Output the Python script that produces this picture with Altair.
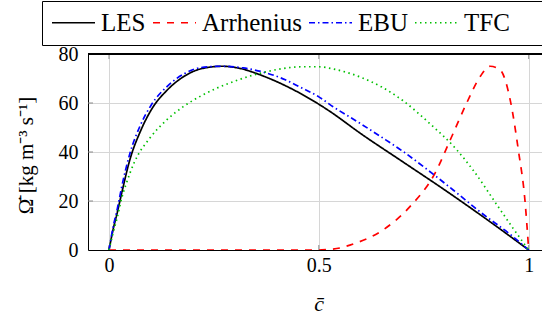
import altair as alt
import pandas as pd

# ---- data ----
series_names = ["LES", "Arrhenius", "EBU", "TFC"]

les_c = [0, 0.01, 0.02, 0.03, 0.05, 0.075, 0.1, 0.14, 0.18, 0.22, 0.27, 0.31, 0.36, 0.415,
         0.455, 0.5, 0.527, 0.6, 0.7, 0.8, 0.9, 1.0]
les_w = [0, 8.5, 15.5, 23, 37, 48.5, 57, 65.5, 71, 74, 75, 74.2, 71.5, 67.5,
         64, 59.5, 56.5, 47.5, 36, 24.5, 12.5, 0]

arr_c = [0, 0.25, 0.5, 0.52, 0.55, 0.574, 0.653, 0.717, 0.777, 0.813, 0.852, 0.884, 0.908,
         0.932, 0.956, 0.976, 0.991, 1.0]
arr_w = [0, 0, 0, 0.2, 0.8, 2, 8.2, 17.7, 31.4, 44.9, 59.9, 70.7, 75,
         73.5, 61.2, 40, 20.4, 0]

ebu_c = [0, 0.01, 0.02, 0.03, 0.05, 0.075, 0.1, 0.14, 0.18, 0.22, 0.27, 0.32, 0.37, 0.42,
         0.455, 0.5, 0.534, 0.6, 0.65, 0.7, 0.757, 0.82, 0.884, 0.963, 1.0]
ebu_w = [0, 9.5, 17, 25.5, 39.5, 51, 59, 67, 72, 74.5, 75, 74.3, 72.5, 69.5,
         66.5, 62.5, 58.5, 51.5, 46, 40.3, 33, 24.5, 15.6, 5.4, 0]

tfc_c = [0, 0.01, 0.02, 0.03, 0.04, 0.061, 0.097, 0.137, 0.177, 0.216, 0.256, 0.296, 0.336,
         0.376, 0.415, 0.46, 0.5, 0.534, 0.6, 0.65, 0.7, 0.765, 0.828, 0.868, 0.924, 0.963, 1.0]
tfc_w = [0, 7, 13.5, 21, 26.5, 36, 45.6, 53, 58.5, 62.6, 66, 68.7, 71,
         72.8, 74.1, 74.8, 74.8, 73.9, 70.5, 66.5, 61, 51.5, 41, 32.5, 18.5, 8.8, 0]

x_ticks = [0, 0.5, 1]
y_ticks = [0, 20, 40, 60, 80]

colors = ["#000000", "#ff0000", "#0000ff", "#00c000"]
dashes = [[1, 0], [7, 7], [6, 3, 1.5, 3], [1.5, 3.5]]

rows = []
for name, cs, ws in [("LES", les_c, les_w), ("Arrhenius", arr_c, arr_w),
                     ("EBU", ebu_c, ebu_w), ("TFC", tfc_c, tfc_w)]:
    for c, w in zip(cs, ws):
        rows.append({"model": name, "c": c, "w": w})
df = pd.DataFrame(rows)

FONT = "Liberation Serif"
# an invisible fifth legend slot pushes the legend frame's right edge off the page,
# as in the reference where the frame is cut by the figure edge
legend_domain = series_names + ["_"]
legend_colors = colors + ["#ffffff"]
legend_dashes = dashes + [[1, 0]]
label_expr = "datum.label == '_' ? '' : datum.label"

axis_common = dict(labelFont=FONT, labelFontSize=20, labelColor="black",
                   titleFont=FONT, titleFontWeight="normal", titleColor="black",
                   domainColor="black", domainWidth=1, gridColor="#d6d6d6", gridWidth=1,
                   ticks=False, tickSize=0, labelFlush=False, grid=True)

lines = alt.Chart(df).mark_line(strokeWidth=1.7, interpolate="monotone", clip=True).encode(
    x=alt.X("c:Q",
            scale=alt.Scale(domain=[-0.05, 1.0317], nice=False, zero=False),
            axis=alt.Axis(values=x_ticks, format="~g", title="c\u0304",
                          labelPadding=5, titleFontSize=22, titleFontStyle="italic",
                          titleX=230.5, titleY=60, titleBaseline="alphabetic",
                          titleAlign="center", **axis_common)),
    y=alt.Y("w:Q",
            scale=alt.Scale(domain=[0, 80], nice=False, zero=False),
            axis=alt.Axis(values=y_ticks, labelPadding=10,
                          title="\u03a9\u0307\u0304 [kg m\u207b\u00b3 s\u207b\u00b9]",
                          titleFontSize=21, titleAngle=270, titleX=-62, titleY=101,
                          titleAlign="center", titleBaseline="middle", **axis_common)),
    color=alt.Color("model:N", scale=alt.Scale(domain=legend_domain, range=legend_colors),
                    legend=alt.Legend(title=None, labelExpr=label_expr)),
    strokeDash=alt.StrokeDash("model:N",
                              scale=alt.Scale(domain=legend_domain, range=legend_dashes),
                              legend=alt.Legend(title=None, labelExpr=label_expr)),
    order="c:Q",
)

top_rule = alt.Chart(df).mark_rule(color="black", strokeWidth=1).encode(
    y=alt.datum(y_ticks[-1]))

# pgfplots-style inward tick marks
yt = pd.DataFrame({"t": y_ticks[1:-1]})
xt = pd.DataFrame({"t": x_ticks})
left_ticks = alt.Chart(yt).mark_rule(color="#8a8a8a", strokeWidth=1).encode(
    y="t:Q", x=alt.value(0), x2=alt.value(5))
top_ticks = alt.Chart(xt).mark_rule(color="#8a8a8a", strokeWidth=1).encode(
    x="t:Q", y=alt.value(0), y2=alt.value(5))
bottom_ticks = alt.Chart(xt).mark_rule(color="#8a8a8a", strokeWidth=1).encode(
    x="t:Q", y=alt.value(191), y2=alt.value(196))

chart = alt.layer(left_ticks, top_ticks, bottom_ticks, lines, top_rule).properties(
    width=454, height=196,
    padding={"left": 88, "top": 54, "right": 0, "bottom": 70},
    autosize="none",
).configure(font=FONT).configure_view(stroke=None).configure_legend(
    orient="none", legendX=-46, legendY=-53, direction="horizontal",
    strokeColor="black", strokeWidth=1, fillColor="white", padding=9, cornerRadius=0,
    labelFont=FONT, labelFontSize=25, labelColor="black",
    symbolType="stroke", symbolSize=1849, symbolStrokeWidth=1.7,
    clipHeight=25, labelOffset=5, columnPadding=6,
)

chart.save("out.html", embed_options={"renderer": "svg", "actions": False})
